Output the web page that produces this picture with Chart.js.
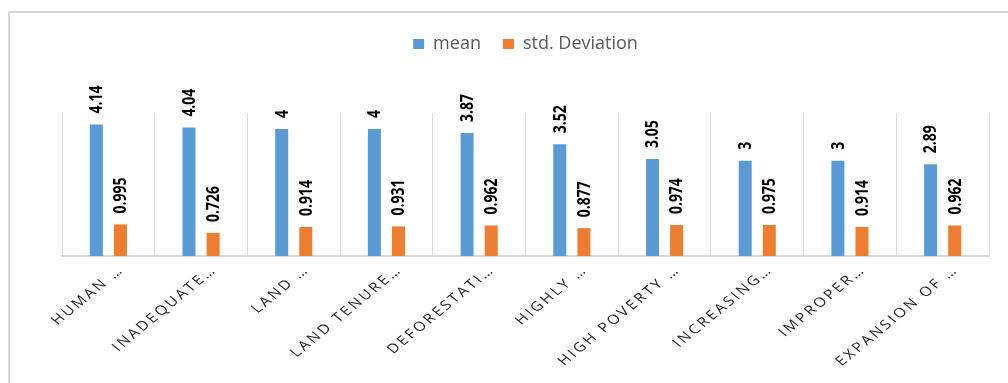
<!DOCTYPE html>
<html>
<head>
<meta charset="utf-8">
<title>Mean and standard deviation by factor</title>
<script src="https://cdn.jsdelivr.net/npm/chart.js@4.4.1/dist/chart.umd.min.js"></script>
<style>
  html, body { margin: 0; padding: 0; background: #ffffff; }
  #wrap { width: 1008px; height: 383px; }
</style>
</head>
<body>
<div id="wrap"><canvas id="chart" width="1008" height="383"></canvas></div>
<script>
// Factor labels (shortened as they appear on the axis)
const categories = [
  'HUMAN …', 'INADEQUATE…', 'LAND …', 'LAND TENURE…', 'DEFORESTATI…',
  'HIGHLY …', 'HIGH POVERTY …', 'INCREASING…', 'IMPROPER…', 'EXPANSION OF …'
];
const meanValues = [4.14, 4.04, 4, 4, 3.87, 3.52, 3.05, 3, 3, 2.89];
const stdValues  = [0.995, 0.726, 0.914, 0.931, 0.962, 0.877, 0.974, 0.975, 0.914, 0.962];
const seriesNames = ['mean', 'std. Deviation'];

const BLUE = '#5B9BD5';
const ORANGE = '#ED7D31';
const GRID = '#d9d9d9';

// The drawing is slightly flattened vertically; text is squashed to suit.
const SQUASH = 0.82;

// Empty layout box that keeps some room between the legend and the plot
const spacerPlugin = {
  id: 'legendSpacer',
  beforeInit(chart) {
    const box = {
      position: 'top',
      weight: 500,
      fullSize: true,
      options: {},
      width: 0,
      height: 0,
      top: 0, left: 0, right: 0, bottom: 0,
      isHorizontal() { return true; },
      update(maxWidth) { this.width = maxWidth; this.height = 50; },
      draw() {}
    };
    Chart.layouts.addBox(chart, box);
  }
};

// Light frame round the whole figure
const framePlugin = {
  id: 'frame',
  beforeDraw(chart) {
    const ctx = chart.ctx;
    ctx.save();
    ctx.strokeStyle = GRID;
    ctx.lineWidth = 2;
    ctx.strokeRect(9, 12, chart.width + 20, chart.height + 20);
    ctx.restore();
  }
};

// Vertical value labels above each bar
const valueLabelPlugin = {
  id: 'valueLabels',
  afterDatasetsDraw(chart) {
    const ctx = chart.ctx;
    ctx.save();
    ctx.fillStyle = '#000000';
    ctx.font = 'bold 17px "Open Sans"';
    ctx.textAlign = 'left';
    ctx.textBaseline = 'middle';
    chart.data.datasets.forEach((ds, di) => {
      const meta = chart.getDatasetMeta(di);
      meta.data.forEach((bar, i) => {
        const txt = String(ds.data[i]);
        ctx.save();
        ctx.translate(bar.x + 1, bar.y - 11);
        ctx.rotate(-Math.PI / 2);
        ctx.scale(SQUASH, 1);
        ctx.fillText(txt, 0, 0);
        ctx.restore();
      });
    });
    ctx.restore();
  }
};

// Slanted, letter-spaced category labels under the axis
const categoryLabelPlugin = {
  id: 'categoryLabels',
  afterDraw(chart) {
    const ctx = chart.ctx;
    const xScale = chart.scales.x;
    const base = chart.chartArea.bottom;
    ctx.save();
    ctx.fillStyle = '#262626';
    ctx.font = '16px "Open Sans"';
    ctx.textAlign = 'right';
    ctx.textBaseline = 'middle';
    ctx.letterSpacing = '2.6px';
    chart.data.labels.forEach((lbl, i) => {
      const x = xScale.getPixelForValue(i);
      ctx.save();
      ctx.translate(x + 13, base + 12);
      ctx.scale(1, SQUASH);
      ctx.rotate(-Math.PI / 4);
      ctx.fillText(lbl, 0, 0);
      ctx.restore();
    });
    ctx.restore();
  }
};

new Chart(document.getElementById('chart'), {
  type: 'bar',
  data: {
    labels: categories,
    datasets: [
      { label: seriesNames[0], data: meanValues, backgroundColor: BLUE },
      { label: seriesNames[1], data: stdValues, backgroundColor: ORANGE }
    ]
  },
  options: {
    responsive: false,
    animation: false,
    devicePixelRatio: 1,
    categoryPercentage: 0.52,
    barPercentage: 0.54,
    layout: { padding: { left: 62, right: 19, top: 13, bottom: 127 } },
    plugins: {
      legend: {
        position: 'top',
        labels: {
          boxWidth: 11,
          boxHeight: 10,
          padding: 22,
          color: '#595959',
          font: { family: '"Open Sans"', size: 18 }
        }
      },
      tooltip: { enabled: false }
    },
    scales: {
      x: {
        grid: { color: GRID, lineWidth: 1, drawTicks: false, offset: true },
        border: { color: GRID, width: 2 },
        ticks: { display: false }
      },
      y: {
        display: false,
        min: 0,
        max: 4.5
      }
    }
  },
  plugins: [spacerPlugin, framePlugin, valueLabelPlugin, categoryLabelPlugin]
});
</script>
</body>
</html>
